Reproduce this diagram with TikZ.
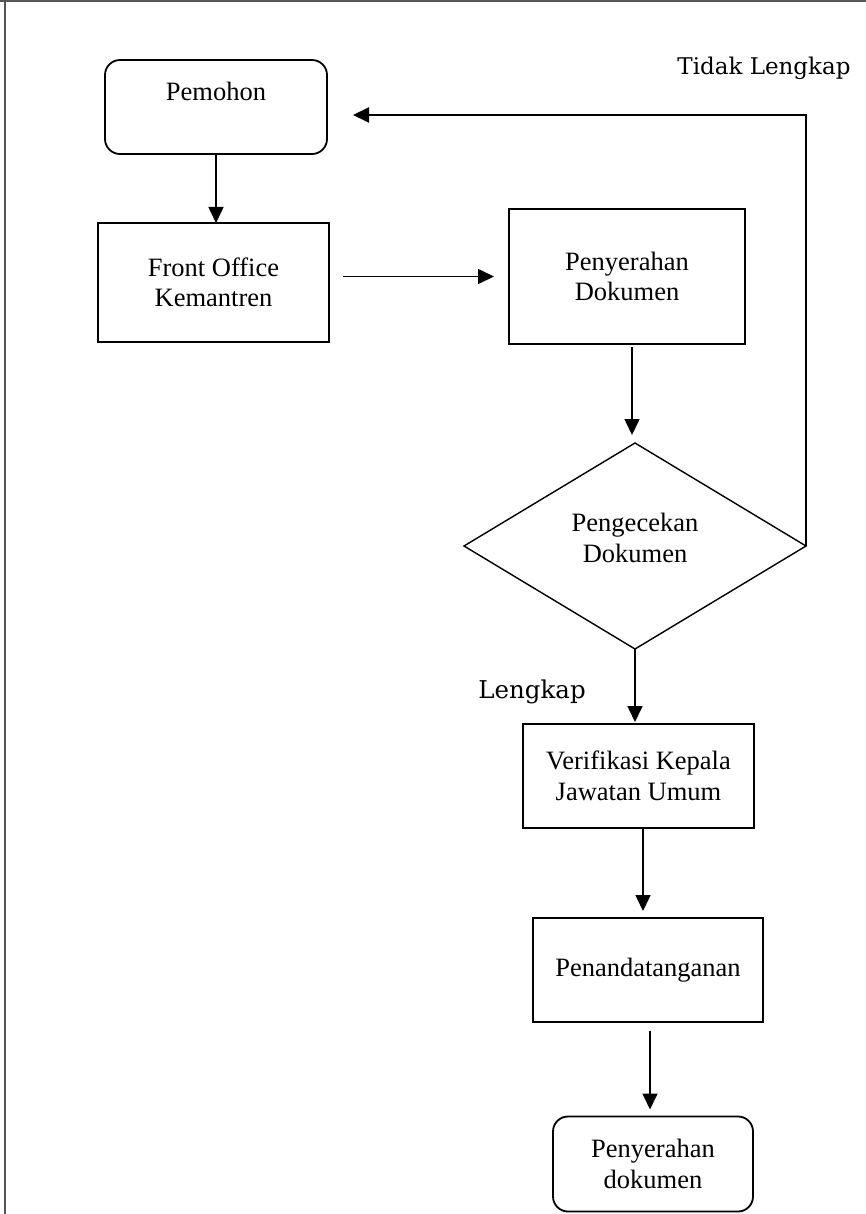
\documentclass[tikz,border=0pt]{standalone}
\usepackage{fontspec}
\setmainfont{Liberation Serif}
\newfontfamily\bookfont{DejaVu Serif}
\usetikzlibrary{arrows.meta,shapes.geometric}
\definecolor{frame}{HTML}{555555}

\begin{document}
\begin{tikzpicture}[x=1pt,y=-1pt,
  every node/.style={font=\fontsize{26.5}{30.5}\selectfont, align=center, inner sep=0pt, outer sep=0pt},
  procbox/.style={draw, line width=2.6pt, rectangle},
  termbox/.style={draw, line width=1.8pt, rectangle, rounded corners=15pt},
  decision/.style={draw, line width=1.4pt, diamond},
  arr/.style={line width=1.6pt, -{Triangle[length=16pt,width=15pt]}},
  note/.style={font=\bookfont\fontsize{23}{28}\selectfont}
]
\useasboundingbox (0,0) rectangle (866,1214);

% page frame
\draw[line width=2pt, color=frame] (0,1) -- (866,1);
\draw[line width=2pt, color=frame] (5,0) -- (5,1214);

% flow steps
\node[termbox, minimum width=222pt, minimum height=94pt] (pemohon) at (216,107) {};
\node (pemohontext) at (216,91) {Pemohon};
\node[procbox, minimum width=231pt, minimum height=119pt] (front) at (213.5,282.5) {Front Office\\Kemantren};
\node[procbox, minimum width=236pt, minimum height=135pt] (peny) at (627,276.5) {Penyerahan\\Dokumen};
\node[decision, minimum width=342pt, minimum height=206pt] (dia) at (635,546) {};
\node (diatext) at (635,538) {Pengecekan\\Dokumen};
\node[procbox, minimum width=231pt, minimum height=104pt] (verif) at (638.5,776) {Verifikasi Kepala\\Jawatan Umum};
\node[procbox, minimum width=230pt, minimum height=104pt] (pen) at (648,970) {Penandatanganan};
\node[termbox, minimum width=200pt, minimum height=95pt] (final) at (653,1164) {Penyerahan\\dokumen};

% decision labels
\node[note] (tidak) at (764,68) {Tidak Lengkap};
\node[note, font=\bookfont\fontsize{24.5}{29}\selectfont] (lengkap) at (532,692) {Lengkap};

% connectors
\draw[arr] (pemohon.south) -- (pemohon.south |- front.north);
\draw[arr, shorten <=14pt, shorten >=15pt] (front.east |- peny.west) -- (peny.west);
\draw[arr, shorten <=3pt, shorten >=8pt] ([xshift=5pt]peny.south) -- ([xshift=5pt]peny.south |- dia.north);
\coordinate (turn) at (806,115);
\draw[arr, line width=2pt, shorten >=26pt] (dia.east) -- (turn) -- (pemohon.east |- turn);
\draw[arr, shorten >=2pt] (dia.south) -- (dia.south |- verif.north);
\draw[arr, shorten >=7pt] ([xshift=4.5pt]verif.south) -- ([xshift=4.5pt]verif.south |- pen.north);
\draw[arr, shorten <=9pt, shorten >=7pt] ([xshift=2pt]pen.south) -- ([xshift=2pt]pen.south |- final.north);
\end{tikzpicture}
\end{document}
